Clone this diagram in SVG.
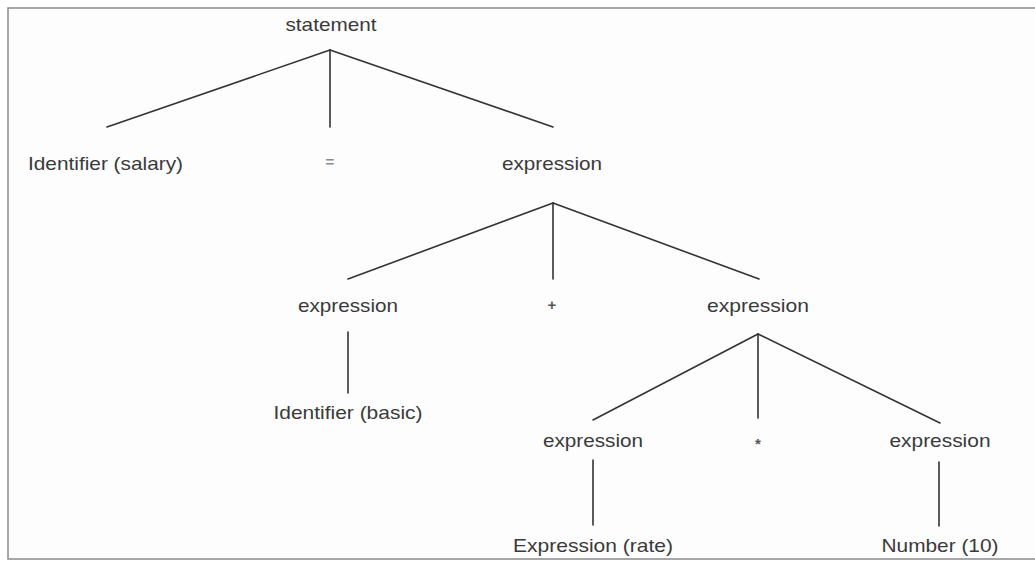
<svg xmlns="http://www.w3.org/2000/svg" width="1035" height="569" viewBox="0 0 1035 569">
  <style>
    .lbl { font-family: "Liberation Sans", Arial, sans-serif; font-size: 19px; fill: #3a3a3a; text-anchor: middle; }
    .op { font-family: "Liberation Sans", Arial, sans-serif; font-size: 15px; fill: #555; text-anchor: middle; font-weight: bold; }
    .edge { stroke: #333; stroke-width: 1.6; fill: none; stroke-linecap: round; }
  </style>

  <rect x="0" y="0" width="1035" height="569" fill="#ffffff"/>
  <!-- frame around the parse tree -->
  <rect x="8" y="8" width="1040" height="551" fill="#fdfdfd" stroke="#8a8a8a" stroke-width="1.5"/>

  <!-- tree edges -->
  <g id="edges" class="edge">
    <line x1="330" y1="50" x2="107" y2="127"/>
    <line x1="330" y1="50" x2="330" y2="127"/>
    <line x1="330" y1="50" x2="553" y2="127"/>

    <line x1="553" y1="203" x2="348" y2="279"/>
    <line x1="553" y1="203" x2="553" y2="279"/>
    <line x1="553" y1="203" x2="759" y2="279"/>

    <line x1="348" y1="332" x2="348" y2="393"/>

    <line x1="758" y1="334" x2="593" y2="420"/>
    <line x1="758" y1="334" x2="758" y2="418"/>
    <line x1="758" y1="334" x2="940" y2="423"/>

    <line x1="593" y1="460" x2="593" y2="525"/>
    <line x1="939" y1="462" x2="939" y2="526"/>
  </g>

  <!-- nodes -->
  <g id="n-statement"><text class="lbl" x="331" y="31" textLength="91" lengthAdjust="spacingAndGlyphs">statement</text></g>
  <g id="n-id-salary"><text class="lbl" x="105.5" y="170" textLength="155" lengthAdjust="spacingAndGlyphs">Identifier (salary)</text></g>
  <g id="n-assign"><text class="op" x="330" y="167" fill="#888" style="fill:#8a8a8a">=</text></g>
  <g id="n-expr-top"><text class="lbl" x="552" y="170" textLength="100" lengthAdjust="spacingAndGlyphs">expression</text></g>

  <g id="n-expr-left"><text class="lbl" x="348" y="312" textLength="100" lengthAdjust="spacingAndGlyphs">expression</text></g>
  <g id="n-plus"><text class="op" x="552" y="310">+</text></g>
  <g id="n-expr-right"><text class="lbl" x="758" y="312" textLength="102" lengthAdjust="spacingAndGlyphs">expression</text></g>

  <g id="n-id-basic"><text class="lbl" x="348" y="419" textLength="149" lengthAdjust="spacingAndGlyphs">Identifier (basic)</text></g>

  <g id="n-expr-rate"><text class="lbl" x="593" y="447" textLength="100" lengthAdjust="spacingAndGlyphs">expression</text></g>
  <g id="n-times"><text class="op" x="758" y="449">*</text></g>
  <g id="n-expr-num"><text class="lbl" x="940" y="447" textLength="101" lengthAdjust="spacingAndGlyphs">expression</text></g>

  <g id="n-rate"><text class="lbl" x="593" y="552" textLength="160" lengthAdjust="spacingAndGlyphs">Expression (rate)</text></g>
  <g id="n-number"><text class="lbl" x="940" y="552" textLength="117" lengthAdjust="spacingAndGlyphs">Number (10)</text></g>
</svg>
